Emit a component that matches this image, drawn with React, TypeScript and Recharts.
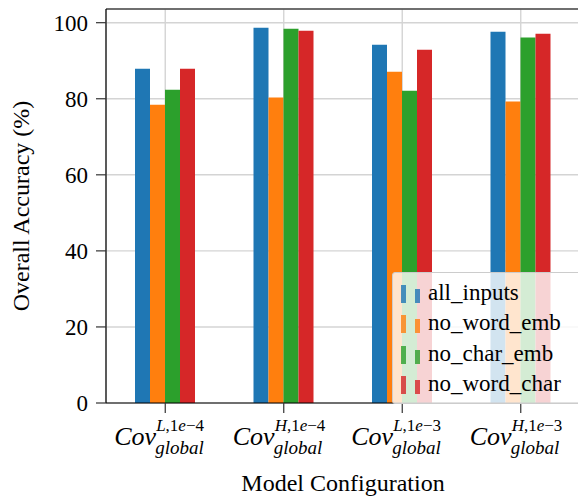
import React from 'react';
import {
  BarChart,
  Bar,
  XAxis,
  YAxis,
  CartesianGrid,
  Legend,
  ReferenceLine,
  Label
} from 'recharts';

// superscripts of the Cov_global labels (level, learning rate)
const levels = ['L', 'H', 'L', 'H'];
const rates = ['1e−4', '1e−4', '1e−3', '1e−3'];

const allInputs = [87.9, 98.7, 94.2, 97.6];
const noWordEmb = [78.4, 80.3, 87.1, 79.3];
const noCharEmb = [82.4, 98.4, 82.1, 96.1];
const noWordChar = [87.9, 97.9, 92.9, 97.1];

const yTicks = [0, 20, 40, 60, 80, 100];
const yMax = 103.6;

const series = [
  { key: 'all_inputs', color: '#1f77b4' },
  { key: 'no_word_emb', color: '#ff7f0e' },
  { key: 'no_char_emb', color: '#2ca02c' },
  { key: 'no_word_char', color: '#d62728' }
];

const data = levels.map((lvl, i) => ({
  name: `${lvl},${rates[i]}`,
  all_inputs: allInputs[i],
  no_word_emb: noWordEmb[i],
  no_char_emb: noCharEmb[i],
  no_word_char: noWordChar[i]
}));

const FONT =
  "'Liberation Serif', Tinos, 'Times New Roman', Times, 'Nimbus Roman', FreeSerif, 'Noto Serif', 'DejaVu Serif', serif";

// Cov with superscript and "global" subscript, one text element
const CovTick = ({ x, y, payload }: any) => {
  const [lvl, rate] = String(payload.value).split(',');
  const num = rate.replace('e', '|').split('|');
  return (
    <g transform={`translate(${x},${y})`}>
      <text x={-51} y={32} fill="#000" style={{ fontFamily: FONT, fontSize: 26 }}>
        <tspan fontStyle="italic">Cov</tspan>
        <tspan dy={-14} fontSize={17} fontStyle="italic">{lvl}</tspan>
        <tspan fontSize={17}>,{num[0]}</tspan>
        <tspan fontSize={17} fontStyle="italic">e</tspan>
        <tspan fontSize={17}>{num[1]}</tspan>
        <tspan x={-10} dy={23} fontSize={19} fontStyle="italic">global</tspan>
      </text>
    </g>
  );
};

const LegendBox = () => (
  <div
    style={{
      background: 'rgba(255,255,255,0.8)',
      border: '1px solid #cccccc',
      borderRadius: 3,
      padding: '4px 0 4px 8px',
      fontFamily: FONT,
      fontSize: 23,
      color: '#000',
      width: 200
    }}
  >
    {series.map((s) => (
      <div key={s.key} style={{ display: 'flex', alignItems: 'flex-end', height: 30.5 }}>
        <span style={{ width: 5, height: 18, background: s.color, opacity: 0.8, marginBottom: 5 }} />
        <span style={{ width: 5, height: 14, background: s.color, opacity: 0.8, marginLeft: 9, marginBottom: 5 }} />
        <span style={{ marginLeft: 8, lineHeight: '30px' }}>{s.key}</span>
      </div>
    ))}
  </div>
);

export default function App() {
  return (
    <div style={{ position: 'absolute', left: 0, top: 0, background: '#fff', fontFamily: FONT }}>
      <BarChart
        width={578}
        height={497}
        data={data}
        margin={{ top: 9, right: -2, bottom: 0, left: 0 }}
        barSize={15}
        barGap={0}
      >
        <CartesianGrid stroke="#d4d4d4" strokeWidth={1.4} />
        <XAxis
          dataKey="name"
          height={94}
          tickSize={10}
          tickMargin={0}
          interval={0}
          axisLine={{ stroke: '#000', strokeWidth: 1.2 }}
          tickLine={{ stroke: '#333', strokeWidth: 1.2 }}
          tick={<CovTick />}
        >
          <Label
            value="Model Configuration"
            position="insideBottom"
            offset={6}
            style={{ fontFamily: FONT, fontSize: 24, fill: '#000' }}
          />
        </XAxis>
        <YAxis
          width={106}
          domain={[0, yMax]}
          ticks={yTicks}
          tickSize={10}
          tickMargin={8}
          axisLine={{ stroke: '#000', strokeWidth: 1.2 }}
          tickLine={{ stroke: '#333', strokeWidth: 1.2 }}
          tick={{ fill: '#000', fontSize: 23, style: { fontFamily: FONT } }}
        >
          <Label
            value="Overall Accuracy (%)"
            angle={-90}
            position="insideLeft"
            offset={20}
            style={{ fontFamily: FONT, fontSize: 24, fill: '#000', textAnchor: 'middle' }}
          />
        </YAxis>
        <ReferenceLine y={yMax} stroke="#000" strokeWidth={1.2} />
        {series.map((s) => (
          <Bar key={s.key} dataKey={s.key} fill={s.color} isAnimationActive={false} />
        ))}
        <Legend
          layout="vertical"
          align="center"
          verticalAlign="middle"
          content={<LegendBox />}
          wrapperStyle={{ position: 'absolute', left: 392, top: 272, width: 200 }}
        />
      </BarChart>
    </div>
  );
}
